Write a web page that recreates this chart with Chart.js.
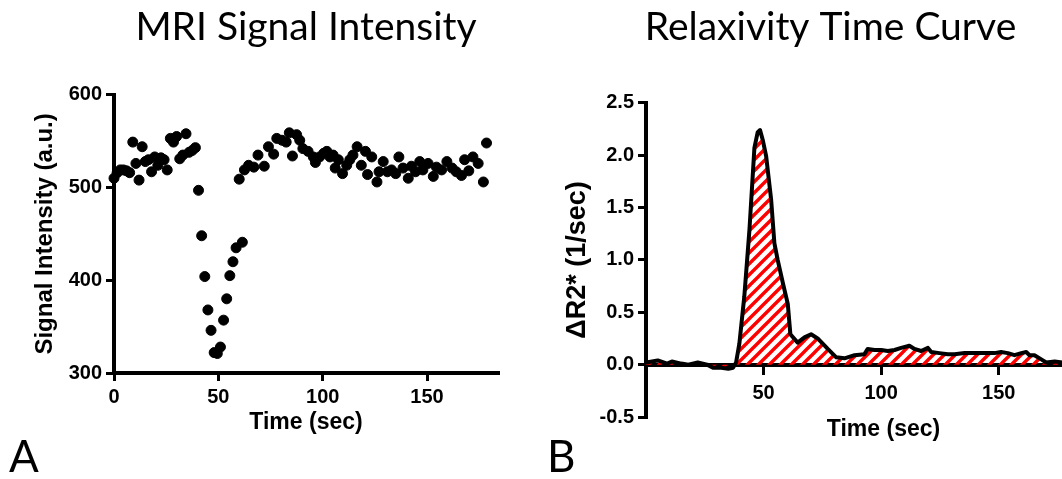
<!DOCTYPE html>
<html>
<head>
<meta charset="utf-8">
<script src="https://cdn.jsdelivr.net/npm/chart.js@4"></script>
<style>
  body { margin: 0; width: 1062px; height: 479px; overflow: hidden; background: #fff; position: relative; }
  canvas { position: absolute; top: 0; }
  #chartA { left: 0; }
  #chartB { left: 540px; }
  .tag { position: absolute; top: 433px; font-family: Lato, sans-serif; font-size: 44px; line-height: 1; color: #000; }
</style>
</head>
<body>
<canvas id="chartA" width="540" height="436"></canvas>
<canvas id="chartB" width="581" height="443"></canvas>
<div class="tag" style="left:9px">A</div>
<div class="tag" style="left:547px">B</div>
<script>
// Panel A: signal intensity per time point
var timeA = [0, 1.5, 3, 4.5, 6, 7.5, 9, 10.5, 12, 13.5, 15, 16.5, 18, 19.5, 21, 22.5, 24, 25.5, 27, 28.5, 30, 31.5, 33, 34.5, 36, 37.5, 39,
  40.5, 42, 43.5, 45, 46.5, 48, 49.5, 51, 52.5, 54, 55.5, 57, 58.5, 60, 61.5,
  62.5, 64.5, 67, 69, 72, 74, 76.5, 78, 80.5, 82.5, 84, 85.5, 87.5, 89, 90.5, 93, 95.5, 96.5, 98.5, 100.5,
  102, 103.5, 105, 106, 107.5, 109.5, 111.5, 113, 114.5, 116.5, 118.5, 120.5, 121.5, 123.5, 126, 127, 129, 131, 133, 135,
  136.5, 138.5, 141, 142.5, 144.5, 146.5, 148, 150.5, 153, 154.5, 157, 159.5, 162, 164, 166.5, 168, 170, 172, 174.5, 177, 178.5];
var signalA = [510, 516, 519, 519, 518, 516, 549, 526, 508, 544, 528, 530, 517, 533, 524, 532, 530, 519, 553, 549, 555, 531, 535, 558, 538, 540, 543,
  497, 448, 404, 368, 346, 322, 321, 328, 357, 380, 405, 420, 435, 509, 441,
  519, 524, 522, 535, 523, 544, 536, 553, 551, 549, 559, 534, 557, 551, 542, 539, 533, 527, 533, 537,
  539, 533, 535, 521, 530, 515, 524, 530, 535, 544, 524, 539, 514, 533, 506, 517, 528, 517, 519, 515,
  533, 521, 510, 523, 517, 528, 519, 526, 512, 522, 519, 528, 521, 517, 513, 530, 518, 533, 526, 506, 548];

// Panel B: relaxivity curve
var timeB = [0, 5, 9, 11, 15, 18, 22, 26, 28.5, 32, 35, 37, 38.3, 39.7, 41.8, 44, 46.1, 47.5, 48.5, 49.6,
  51.1, 53.2, 54.6, 56, 58.2, 60.3, 61.4, 64.5, 67.4, 70.2, 73, 77.3, 80.9, 84.4, 88.7, 92.9, 94.3, 97.2, 100, 102.8,
  105.7, 108.5, 112, 114.2, 117, 119.9, 121.3, 124.8, 128.4, 131.2, 135.5, 139.7, 144, 148.2, 151, 153.9, 156.7, 159.6, 161.7, 163.1,
  165.2, 168.1, 170.2, 173.8, 177];
var deltaR2 = [0.02, 0.04, 0.01, 0.03, 0.01, 0, 0.02, 0, -0.03, -0.03, -0.04, -0.03, 0.02, 0.2, 0.65, 1.29, 2.07, 2.22, 2.24, 2.15,
  1.99, 1.58, 1.16, 1.0, 0.78, 0.58, 0.29, 0.21, 0.26, 0.29, 0.25, 0.15, 0.07, 0.06, 0.09, 0.1, 0.15, 0.14, 0.14, 0.13,
  0.14, 0.16, 0.18, 0.15, 0.13, 0.16, 0.12, 0.11, 0.1, 0.1, 0.11, 0.11, 0.11, 0.11, 0.12, 0.11, 0.09, 0.11, 0.12, 0.09,
  0.09, 0.05, 0.02, 0.03, 0.02];

var ticksA = [0, 50, 100, 150];
var ticksB = [0, 50, 100, 150];

var sans = "'Liberation Sans', Arial, sans-serif";
var tickFont = { family: sans, size: 20, weight: 'bold' };
var axisFont = { family: sans, size: 23, weight: 'bold' };
var titleFont = { family: "Lato, 'Open Sans', sans-serif", size: 39, weight: 'normal' };

// red diagonal hatch for the area under the curve
function hatch() {
  var c = document.createElement('canvas');
  c.width = 11; c.height = 11;
  var g = c.getContext('2d');
  g.strokeStyle = '#ff0000';
  g.lineWidth = 3.4;
  g.beginPath();
  g.moveTo(-3, 14); g.lineTo(14, -3);
  g.moveTo(-3, 3); g.lineTo(3, -3);
  g.moveTo(8, 14); g.lineTo(14, 8);
  g.stroke();
  return g.createPattern(c, 'repeat');
}

// fixed tick positions taken from the lists above
function fixedTicks(list) {
  return function (scale) {
    scale.ticks = list.map(function (v) { return { value: v }; });
  };
}

function axisLook(extra, tickExtra) {
  var o = {
    type: 'linear',
    grid: { drawOnChartArea: false, color: '#000', lineWidth: 3, tickLength: 8 },
    border: { color: '#000', width: 4 },
    ticks: Object.assign({ color: '#000', font: tickFont, padding: 4, maxRotation: 0, autoSkip: false }, tickExtra || {})
  };
  return Object.assign(o, extra);
}

new Chart(document.getElementById('chartA'), {
  type: 'scatter',
  data: {
    datasets: [{
      data: timeA.map(function (t, i) { return { x: t, y: signalA[i] }; }),
      backgroundColor: '#000',
      borderColor: '#000',
      pointRadius: 5,
      pointHoverRadius: 5,
      clip: false
    }]
  },
  options: {
    responsive: false,
    animation: false,
    devicePixelRatio: 1,
    layout: { padding: { left: 0, right: 42, top: 0, bottom: 0 } },
    plugins: {
      legend: { display: false },
      tooltip: { enabled: false },
      title: { display: true, text: 'MRI Signal Intensity', fullSize: false, color: '#000', font: titleFont, padding: { top: 4, bottom: 44 } }
    },
    scales: {
      x: axisLook({
        min: 0, max: 184,
        afterBuildTicks: fixedTicks(ticksA),
        afterFit: function (s) { s.height = 63; },
        title: { display: true, text: 'Time (sec)', color: '#000', font: axisFont, padding: { top: 0, bottom: 0 } }
      }),
      y: axisLook({
        min: 300, max: 600,
        afterFit: function (s) { s.width = 114; },
        title: { display: true, text: 'Signal Intensity (a.u.)', color: '#000', font: { family: sans, size: 24, weight: 'bold' }, padding: { top: 31, bottom: 0 } }
      }, { stepSize: 100 })
    }
  }
});

new Chart(document.getElementById('chartB'), {
  type: 'line',
  data: {
    datasets: [{
      data: timeB.map(function (t, i) { return { x: t, y: deltaR2[i] }; }),
      borderColor: '#000',
      borderWidth: 4,
      borderJoinStyle: 'round',
      pointRadius: 0,
      tension: 0,
      fill: 'origin',
      backgroundColor: hatch()
    }]
  },
  options: {
    responsive: false,
    animation: false,
    devicePixelRatio: 1,
    layout: { padding: 0 },
    plugins: {
      legend: { display: false },
      tooltip: { enabled: false },
      title: { display: true, text: 'Relaxivity Time Curve', color: '#000', font: titleFont, padding: { top: 4, bottom: 52 } }
    },
    scales: {
      x: axisLook({
        min: 0, max: 202,
        position: { y: 0 },
        afterBuildTicks: fixedTicks(ticksB)
      }, { padding: 9, callback: function (v) { return v === 0 ? '' : v; } }),
      y: axisLook({
        min: -0.5, max: 2.5,
        afterFit: function (s) { s.width = 106; },
        title: { display: true, text: '\u0394R2* (1/sec)', color: '#000', font: { family: sans, size: 27, weight: 'bold' }, padding: { top: 21, bottom: 0 } }
      }, { stepSize: 0.5, callback: function (v) { return v.toFixed(1); } }),
      xTitle: {
        type: 'linear', position: 'bottom', min: 0, max: 202,
        grid: { display: false, drawTicks: false },
        border: { display: false },
        ticks: { display: false },
        afterFit: function (s) { s.height = 26; },
        title: { display: true, text: 'Time (sec)', color: '#000', font: axisFont, padding: { top: 0, bottom: 0 } }
      }
    }
  }
});
</script>
</body>
</html>
